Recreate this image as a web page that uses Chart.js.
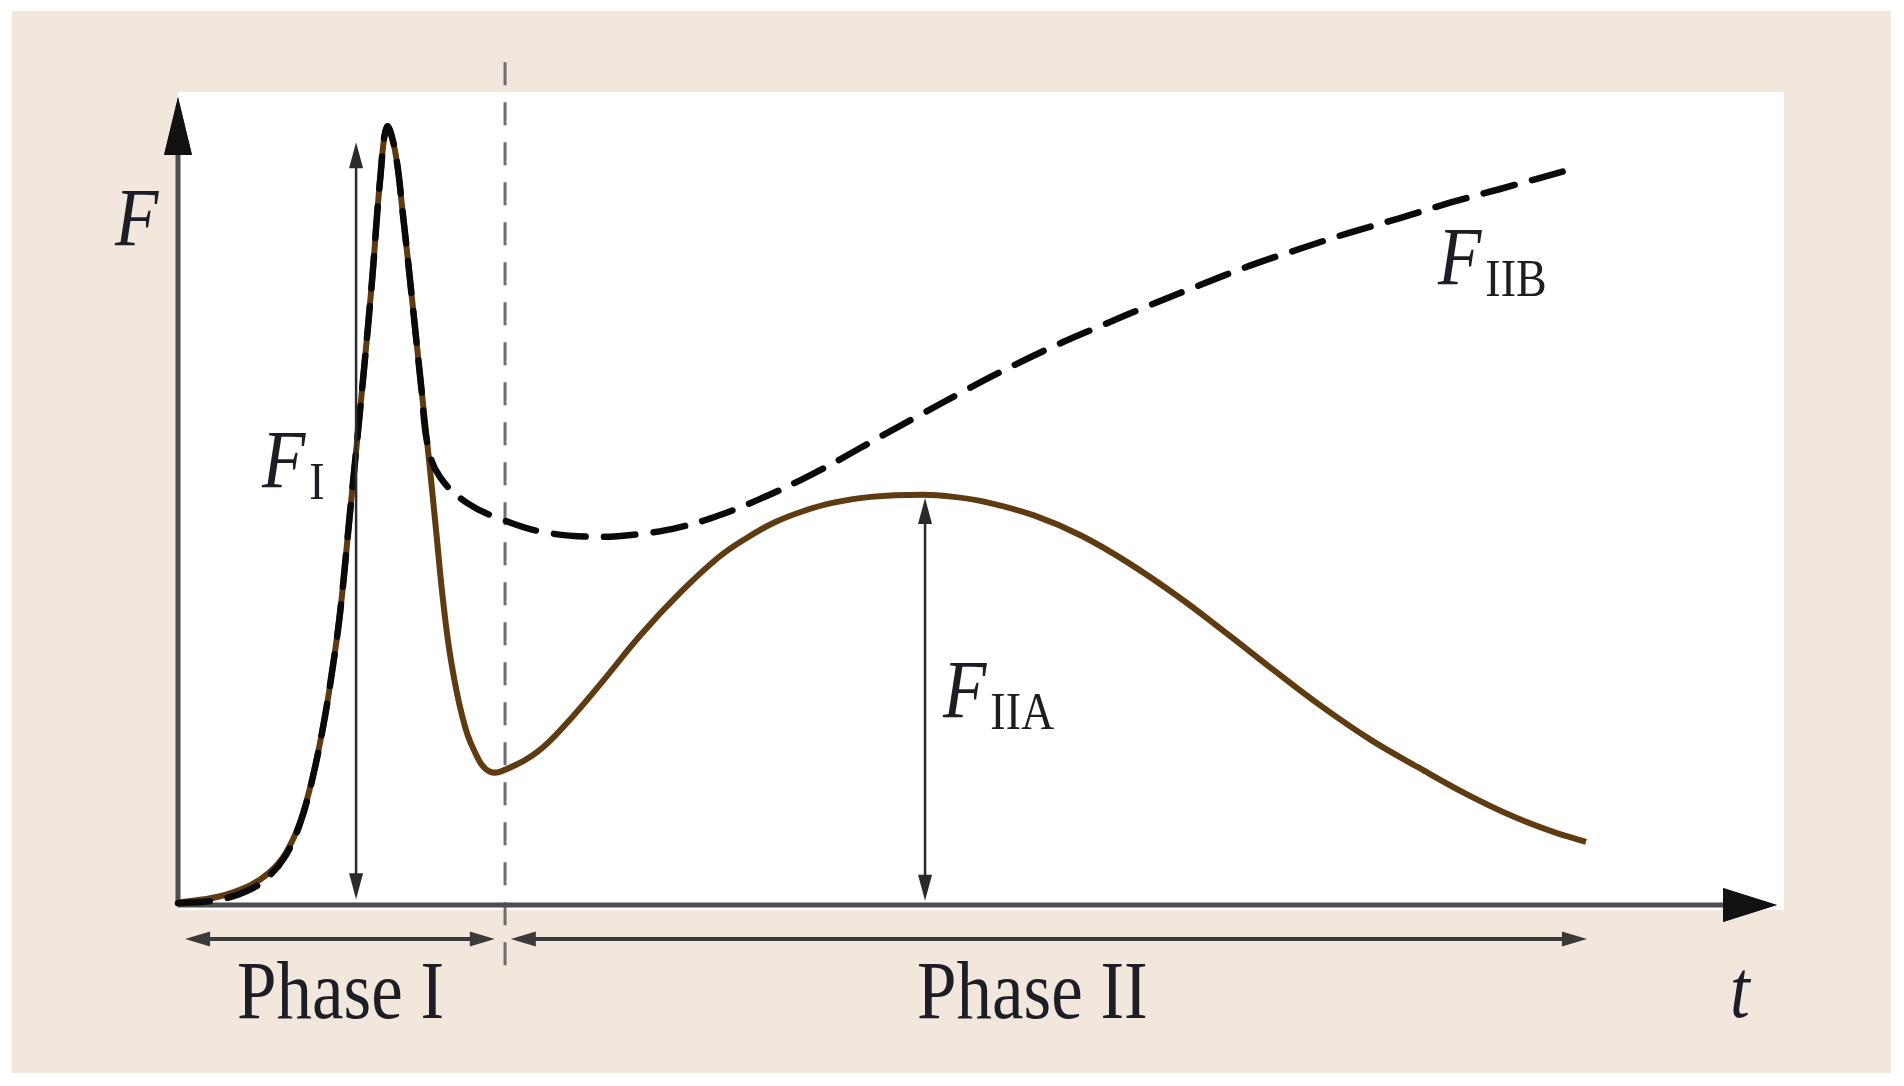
<!DOCTYPE html>
<html>
<head>
<meta charset="utf-8">
<title>F over t, Phase I / Phase II</title>
<script src="https://cdn.jsdelivr.net/npm/chart.js@4.4.1/dist/chart.umd.min.js"></script>
<style>
  html, body { margin: 0; padding: 0; background: #fff; }
  canvas { display: block; }
</style>
</head>
<body>
<canvas id="chart" width="1904" height="1086"></canvas>
<script>
// time (arbitrary units) and force
const solidT = [0, 2.5, 4.5, 5.7, 6.7, 7.6, 8.4, 9.1, 9.6, 10.13,
  10.75, 11.56, 12.13, 12.63, 13.06, 13.56, 14.06, 14.63, 15.19, 15.69,
  16.13, 16.56, 17.06, 17.75, 18.56, 19.5, 20.75, 22.5, 24.25, 26.5,
  28.9, 31.4, 33.75, 35.5, 37.3, 39.1, 40.9, 43.3, 46.56, 48.5,
  50.5, 53.5, 56.5, 59.5, 62.5, 65.5, 68.5, 71.5, 74.5, 77.5,
  80.5, 83.5, 86.0, 88.0];
const solidF = [0.2, 0.9, 2.3, 3.9, 6.2, 10.0, 15.6, 22.3, 28.4, 36.1,
  48.5, 64.9, 77.3, 89.7, 96.3, 93.4, 85.4, 74.9, 64.3, 55.0,
  46.3, 37.7, 30.2, 23.4, 18.8, 16.4, 16.9, 18.9, 22.3, 27.5,
  33.3, 38.6, 42.9, 45.3, 47.3, 48.7, 49.7, 50.45, 50.7, 50.45,
  49.8, 48.15, 45.6, 42.15, 38.1, 33.6, 28.95, 24.45, 20.4, 16.95,
  13.65, 10.8, 8.9, 7.7];

const dashT = [0, 2.5, 4.5, 5.7, 6.7, 7.6, 8.4, 9.1, 9.6, 10.13,
  10.75, 11.56, 12.13, 12.63, 13.06, 13.56, 14.06, 14.63, 15.19, 15.63,
  16.38, 18.06, 20.31, 22.81, 26.06, 28.88, 31.38, 33.88, 36.38, 38.88,
  41.38, 43.88, 46.38, 48.88, 51.38, 54.5, 57.63, 60.75, 63.88, 67.0,
  70.13, 73.25, 76.38, 79.5, 82.63, 87.0];
const dashF = [0.1, 0.5, 1.8, 3.5, 5.9, 9.8, 15.5, 22.3, 28.4, 36.1,
  48.5, 64.9, 77.3, 89.7, 96.3, 93.4, 85.4, 74.9, 64.3, 56.6,
  52.9, 49.7, 47.6, 46.1, 45.5, 45.85, 46.7, 48.2, 50.2, 52.5,
  55.1, 57.9, 60.6, 63.3, 65.9, 68.9, 71.6, 74.2, 76.7, 79.1,
  81.2, 83.2, 85.0, 86.9, 88.6, 91.0];

const phaseLabels = ['Phase I', 'Phase II'];
const curveLabels = ['I', 'IIA', 'IIB'];

const toPoints = (ts, fs) => ts.map((t, i) => ({ x: t, y: fs[i] }));

const SERIF = '"Liberation Serif", "DejaVu Serif", serif';
const INK = '#1d1d26';

function arrowHead(ctx, tipX, tipY, dx, dy, len, wid) {
  const bx = tipX - dx * len, by = tipY - dy * len;
  ctx.beginPath();
  ctx.moveTo(tipX, tipY);
  ctx.lineTo(bx - dy * wid / 2, by + dx * wid / 2);
  ctx.lineTo(bx + dy * wid / 2, by - dx * wid / 2);
  ctx.closePath();
  ctx.fill();
}

function arrow(ctx, x1, y1, x2, y2, opt) {
  const dist = Math.hypot(x2 - x1, y2 - y1);
  const dx = (x2 - x1) / dist, dy = (y2 - y1) / dist;
  ctx.save();
  ctx.strokeStyle = opt.color;
  ctx.fillStyle = opt.color;
  ctx.lineWidth = opt.width;
  const sx = opt.both ? x1 + dx * opt.len * 0.8 : x1;
  const sy = opt.both ? y1 + dy * opt.len * 0.8 : y1;
  ctx.beginPath();
  ctx.moveTo(sx, sy);
  ctx.lineTo(x2 - dx * opt.len * 0.8, y2 - dy * opt.len * 0.8);
  ctx.stroke();
  arrowHead(ctx, x2, y2, dx, dy, opt.len, opt.head);
  if (opt.both) arrowHead(ctx, x1, y1, -dx, -dy, opt.len, opt.head);
  ctx.restore();
}

// serif text, slightly tall like the source figure
function label(ctx, main, sub, x, y, italic) {
  ctx.save();
  ctx.translate(x, y);
  ctx.scale(1, 1.17);
  ctx.fillStyle = INK;
  ctx.textBaseline = 'alphabetic';
  ctx.font = (italic ? 'italic ' : '') + '71px ' + SERIF;
  ctx.fillText(main, 0, 0);
  if (sub) {
    const w = ctx.measureText(main).width;
    ctx.font = '46px ' + SERIF;
    ctx.fillText(sub, w + 4, 12 / 1.17);
  }
  ctx.restore();
}

function centered(ctx, text, cx, y) {
  ctx.save();
  ctx.font = '71px ' + SERIF;
  const w = ctx.measureText(text).width;
  ctx.restore();
  label(ctx, text, null, cx - w / 2, y, false);
}

const figurePlugin = {
  id: 'figure',
  beforeDraw(chart) {
    const { ctx, chartArea: a, width, height } = chart;
    ctx.save();
    ctx.fillStyle = '#ffffff';
    ctx.fillRect(0, 0, width, height);
    ctx.fillStyle = '#f1e7dd';
    ctx.fillRect(12, 11, width - 25, height - 24);
    ctx.fillStyle = '#ffffff';
    ctx.fillRect(a.left, a.top - 5, a.right - a.left + 6, a.bottom - a.top + 11);
    ctx.restore();
  },
  beforeDatasetsDraw(chart) {
    const { ctx, chartArea: a, scales: { x, y } } = chart;
    // phase boundary
    const bx = x.getPixelForValue(20.44);
    ctx.save();
    ctx.strokeStyle = '#6e6e6e';
    ctx.lineWidth = 3;
    ctx.setLineDash([23, 17]);
    ctx.beginPath();
    ctx.moveTo(bx, y.getPixelForValue(104.3));
    ctx.lineTo(bx, y.getPixelForValue(-8.2));
    ctx.stroke();
    ctx.restore();
    // axes
    arrow(ctx, a.left, a.bottom + 1, a.left, a.top, { color: '#4d4d4d', width: 5, len: 58, head: 28 });
    arrow(ctx, a.left, a.bottom + 1, a.right - 1, a.bottom + 1, { color: '#4d4d4d', width: 5, len: 54, head: 34 });
    ctx.save();
    ctx.fillStyle = '#111';
    arrowHead(ctx, a.left, a.top, 0, -1, 58, 28);
    arrowHead(ctx, a.right - 1, a.bottom + 1, 1, 0, 54, 34);
    ctx.restore();
  },
  afterDatasetsDraw(chart) {
    const { ctx, scales: { x, y } } = chart;
    const px = v => x.getPixelForValue(v);
    const py = v => y.getPixelForValue(v);
    const thin = { color: '#2a2a2a', width: 2.5, len: 26, head: 14, both: true };
    const span = { color: '#3a3a3a', width: 4, len: 25, head: 15, both: true };
    // F_I and F_IIA magnitudes
    arrow(ctx, px(11.13), py(0.6), px(11.13), py(94.4), thin);
    arrow(ctx, px(46.69), py(0.4), px(46.69), py(50.3), thin);
    // phase extents
    arrow(ctx, px(0.44), py(-4.34), px(19.8), py(-4.34), span);
    arrow(ctx, px(20.8), py(-4.34), px(88.06), py(-4.34), span);

    label(ctx, 'F', null, px(-3.94), py(81.66), true);
    label(ctx, 'F', curveLabels[0], px(5.25), py(51.67), true);
    label(ctx, 'F', curveLabels[1], px(47.81), py(23.17), true);
    label(ctx, 'F', curveLabels[2], px(78.75), py(76.83), true);
    label(ctx, 't', null, px(97.0), py(-14.0), true);
    centered(ctx, phaseLabels[0], px(10.16), py(-14.13));
    centered(ctx, phaseLabels[1], px(53.4), py(-14.13));
  }
};

new Chart(document.getElementById('chart'), {
  type: 'line',
  data: {
    datasets: [{
      label: 'F IIB',
      data: toPoints(dashT, dashF),
      borderColor: '#0a0a0a',
      borderWidth: 6.5,
      borderDash: [32, 18],
      borderCapStyle: 'round',
      pointRadius: 0,
      tension: 0.4,
      clip: false
    }, {
      label: 'F IIA',
      data: toPoints(solidT, solidF),
      borderColor: '#5e3b10',
      borderWidth: 6,
      pointRadius: 0,
      tension: 0.4,
      clip: false
    }]
  },
  options: {
    responsive: false,
    devicePixelRatio: 1,
    animation: false,
    layout: { padding: { left: 178, right: 126, top: 97, bottom: 182 } },
    scales: {
      x: { type: 'linear', min: 0, max: 100, display: false },
      y: { min: 0, max: 100, display: false }
    },
    plugins: {
      legend: { display: false },
      tooltip: { enabled: false }
    }
  },
  plugins: [figurePlugin]
});
</script>
</body>
</html>
